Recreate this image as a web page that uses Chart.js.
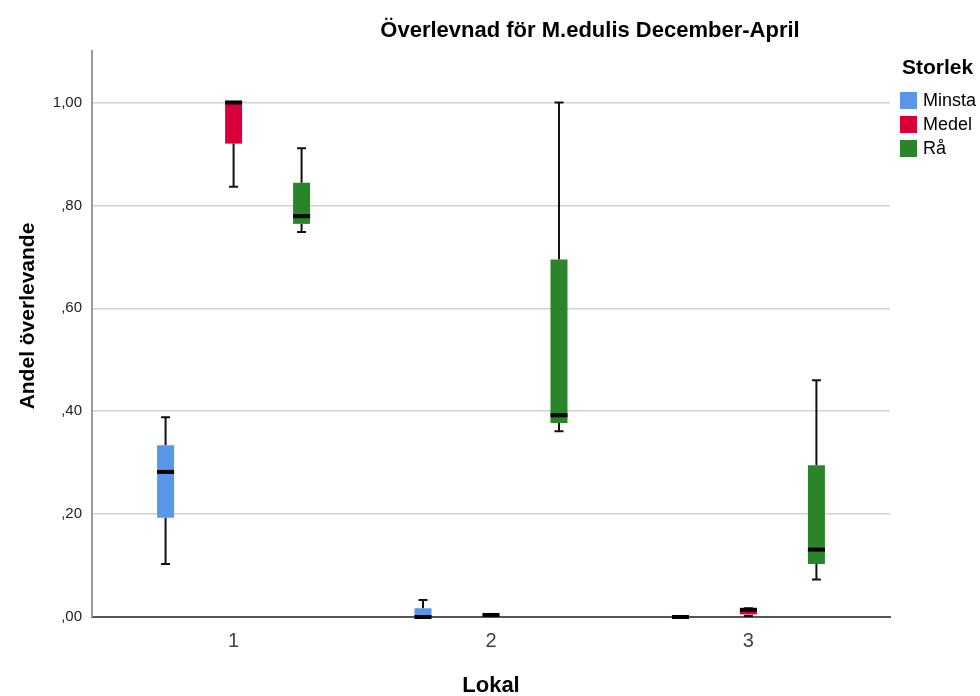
<!DOCTYPE html>
<html lang="sv">
<head>
<meta charset="utf-8">
<title>Överlevnad för M.edulis December-April</title>
<script src="https://cdn.jsdelivr.net/npm/chart.js@4/dist/chart.umd.min.js"></script>
<style>
    body { margin: 0; background: #fff; font-family: "Liberation Sans", Arial, sans-serif; }
    #wrap { position: relative; width: 980px; height: 696px; overflow: hidden; }
    #boxChart { position: absolute; left: 0; top: 0; }
    .title { position: absolute; left: 290px; width: 600px; top: 18px; text-align: center;
             font-size: 22px; font-weight: bold; line-height: 24px; color: #000; white-space: nowrap; }
    .ytitle { position: absolute; left: -123px; top: 304px; width: 300px; text-align: center;
              font-size: 21px; font-weight: bold; line-height: 24px; color: #000;
              transform: rotate(-90deg); white-space: nowrap; }
    .legend { position: absolute; left: 900px; top: 55px; color: #000; white-space: nowrap; }
    .legend .head { font-size: 21px; font-weight: bold; line-height: 24px; margin-left: 2px; margin-bottom: 9px; }
    .legend .row { display: flex; align-items: center; height: 24px; font-size: 18px; }
    .legend .sw { width: 17px; height: 17px; margin-right: 6px; }
</style>
</head>
<body>
<div id="wrap">
    <canvas id="boxChart" width="980" height="696"></canvas>
    <div class="title">Överlevnad för M.edulis December-April</div>
    <div class="ytitle">Andel överlevande</div>
    <div class="legend" id="legend"></div>
</div>
<script>
// Lokal on the x axis
const lokaler = [1, 2, 3];
const storlekar = ['Minsta', 'Medel', 'Rå'];
const farger = ['#5897E8', '#D9003A', '#2A852A'];

// each row: [min, q1, median, q3, max] for Lokal 1, 2, 3
const minsta = [
    [0.103, 0.193, 0.282, 0.334, 0.388],
    [0.000, 0.000, 0.000, 0.017, 0.033],
    [0.000, 0.000, 0.000, 0.000, 0.000]
];
const medel = [
    [0.836, 0.920, 1.000, 1.000, 1.000],
    [0.003, 0.003, 0.004, 0.005, 0.005],
    [0.002, 0.005, 0.014, 0.014, 0.017]
];
const raa = [
    [0.748, 0.764, 0.779, 0.844, 0.911],
    [0.361, 0.377, 0.392, 0.695, 1.000],
    [0.073, 0.103, 0.131, 0.295, 0.460]
];
const yTicks = [0, 0.2, 0.4, 0.6, 0.8, 1.0];

const allStats = [minsta, medel, raa];

// Format like SPSS: 1,00  ,80  ,00
function formatTick(v) {
    return v.toFixed(2).replace('.', ',').replace(/^0/, '');
}

// Whiskers behind the boxes, medians on top
const boxPlugin = {
    id: 'boxPlugin',
    beforeDatasetsDraw(chart) {
        const ctx = chart.ctx;
        const yScale = chart.scales.y;
        ctx.save();
        ctx.strokeStyle = '#111';
        ctx.lineWidth = 2;
        chart.data.datasets.forEach((ds, di) => {
            chart.getDatasetMeta(di).data.forEach((bar, i) => {
                const s = ds.stats[i];
                const x = bar.x;
                const yMin = yScale.getPixelForValue(s[0]);
                const yQ1 = yScale.getPixelForValue(s[1]);
                const yQ3 = yScale.getPixelForValue(s[3]);
                const yMax = yScale.getPixelForValue(s[4]);
                ctx.beginPath();
                if (s[4] > s[3]) {
                    ctx.moveTo(x, yQ3); ctx.lineTo(x, yMax);
                    ctx.moveTo(x - 4.5, yMax); ctx.lineTo(x + 4.5, yMax);
                }
                if (s[0] < s[1]) {
                    ctx.moveTo(x, yQ1); ctx.lineTo(x, yMin);
                    ctx.moveTo(x - 4.5, yMin); ctx.lineTo(x + 4.5, yMin);
                }
                ctx.stroke();
            });
        });
        ctx.restore();
    },
    afterDatasetsDraw(chart) {
        const ctx = chart.ctx;
        const yScale = chart.scales.y;
        ctx.save();
        ctx.strokeStyle = '#000';
        ctx.lineWidth = 4;
        chart.data.datasets.forEach((ds, di) => {
            chart.getDatasetMeta(di).data.forEach((bar, i) => {
                const s = ds.stats[i];
                const y = yScale.getPixelForValue(s[2]);
                ctx.beginPath();
                ctx.moveTo(bar.x - bar.width / 2, y);
                ctx.lineTo(bar.x + bar.width / 2, y);
                ctx.stroke();
            });
        });
        ctx.restore();
    }
};

const datasets = storlekar.map((namn, k) => ({
    label: namn,
    stats: allStats[k],
    data: lokaler.map((x, i) => ({ x: x, y: [allStats[k][i][1], allStats[k][i][3]] })),
    backgroundColor: farger[k],
    borderWidth: 0,
    categoryPercentage: 0.7925,
    barPercentage: 0.25
}));

new Chart(document.getElementById('boxChart'), {
    type: 'bar',
    data: { datasets: datasets },
    plugins: [boxPlugin],
    options: {
        responsive: false,
        animation: false,
        layout: { padding: { top: 51, right: 90, left: 0, bottom: 0 } },
        plugins: {
            legend: { display: false },
            tooltip: { enabled: false }
        },
        scales: {
            x: {
                type: 'linear',
                offset: false,
                min: 0.45,
                max: 3.55,
                afterBuildTicks: (scale) => { scale.ticks = lokaler.map(v => ({ value: v })); },
                afterFit: (scale) => { scale.height = 79; },
                grid: { display: false, drawTicks: false },
                border: { display: true, color: '#555', width: 2 },
                ticks: {
                    padding: 12,
                    color: '#444',
                    font: { family: '"Liberation Sans", Arial, sans-serif', size: 20 },
                    callback: (v) => String(v)
                },
                title: {
                    display: true,
                    text: 'Lokal',
                    color: '#000',
                    padding: { top: 0, bottom: -3 },
                    font: { family: '"Liberation Sans", Arial, sans-serif', size: 22, weight: 'bold' }
                }
            },
            y: {
                min: 0,
                max: 1.1,
                afterBuildTicks: (scale) => { scale.ticks = yTicks.map(v => ({ value: v })); },
                afterFit: (scale) => { scale.width = 92; },
                grid: { color: '#d2d2d2', lineWidth: 1.5, drawTicks: false },
                border: { display: true, color: '#9a9a9a', width: 2 },
                ticks: {
                    padding: 10,
                    color: '#222',
                    font: { family: '"Liberation Sans", Arial, sans-serif', size: 15 },
                    callback: (v) => formatTick(v)
                }
            }
        }
    }
});

// Legend built from the same series names and colours
const legend = document.getElementById('legend');
legend.innerHTML = '<div class="head">Storlek</div>' + storlekar.map((namn, k) =>
    `<div class="row"><span class="sw" style="background:${farger[k]}"></span>${namn}</div>`
).join('');
</script>
</body>
</html>
